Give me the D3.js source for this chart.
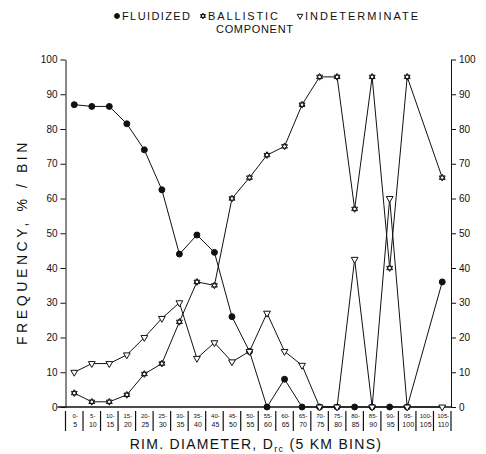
<!DOCTYPE html>
<html>
<head>
<meta charset="utf-8">
<script src="https://cdn.jsdelivr.net/npm/d3@7"></script>
<style>
  body { margin: 0; background: #fff; }
  text { font-family: "Liberation Sans", Arial, sans-serif; fill: #111; }
</style>
</head>
<body>
<div id="chart"></div>
<script>
var svgWidth = 486;
var svgHeight = 454;

// bins of rim diameter, 5 km each
var binLow = ["0-", "5-", "10-", "15-", "20-", "25-", "30-", "35-", "40-", "45-", "50-",
  "55-", "60-", "65-", "70-", "75-", "80-", "85-", "90-", "95-", "100-", "105-"];
var binHigh = ["5", "10", "15", "20", "25", "30", "35", "40", "45", "50", "55",
  "60", "65", "70", "75", "80", "85", "90", "95", "100", "105", "110"];
var bins = binLow.map((d, i) => d + binHigh[i]);

// frequency, % per bin (null = not plotted)
var fluidized = [87, 86.5, 86.5, 81.5, 74, 62.5, 44, 49.5, 44.5, 26, 16,
  0, 8, 0, 0, 0, 0, 0, 0, 0, null, 36];
var ballistic = [4, 1.5, 1.5, 3.5, 9.5, 12.5, 24.5, 36, 35, 60, 66,
  72.5, 75, 87, 95, 95, 57, 95, 40, 95, null, 66];
var indeterminate = [10, 12.5, 12.5, 15, 20, 25.5, 30, 14, 18.5, 13, 16,
  27, 16, 12, 0, 0, 42.5, 0, 60, 0, null, 0];

var yTicks = [0, 10, 20, 30, 40, 50, 60, 70, 80, 90, 100];

var margin = { top: 59.5, right: 35, bottom: 47, left: 65.5 };
var width = svgWidth - margin.left - margin.right;
var height = svgHeight - margin.top - margin.bottom;

var svg = d3.select("#chart")
  .append("svg")
  .attr("width", svgWidth)
  .attr("height", svgHeight);

var chartGroup = svg.append("g")
  .attr("transform", `translate(${margin.left}, ${margin.top})`);

var x = d3.scaleBand().domain(bins).range([0, width]);
var y = d3.scaleLinear().domain([0, 100]).range([height, 0]);

// hexagram marker for the ballistic series
var hexagram = {
  draw: function(ctx, size) {
    var r = Math.sqrt(size) * 0.62;
    for (var k = 0; k < 2; k++) {
      for (var j = 0; j < 3; j++) {
        var a = (k * 60 + j * 120 - 90) * Math.PI / 180;
        var px = r * Math.cos(a), py = r * Math.sin(a);
        if (j === 0) ctx.moveTo(px, py); else ctx.lineTo(px, py);
      }
      ctx.closePath();
    }
  }
};

// axes
var leftAxis = d3.axisLeft(y).tickValues(yTicks).tickSizeInner(5).tickSizeOuter(0);
var rightAxis = d3.axisRight(y).tickValues(yTicks).tickSizeInner(5).tickSizeOuter(0);

var gl = chartGroup.append("g").call(leftAxis);
var gr = chartGroup.append("g").attr("transform", `translate(${width}, 0)`).call(rightAxis);
[gl, gr].forEach(function(g) {
  g.selectAll("path, line").attr("stroke", "#111");
  g.selectAll("text").attr("font-size", "10px").style("font-family", "Liberation Sans, Arial, sans-serif").attr("fill", "#111");
});
gl.selectAll("text").attr("x", -8);
gr.selectAll("text").attr("x", 8);

// x axis line
chartGroup.append("line")
  .attr("x1", -8).attr("x2", width)
  .attr("y1", height).attr("y2", height)
  .attr("stroke", "#111").attr("stroke-width", 1.4);

// bin label boxes
var binG = chartGroup.append("g").attr("transform", `translate(0, ${height})`);
binG.selectAll("line.sep")
  .data(bins.concat(["end"]))
  .enter()
  .append("line")
  .attr("x1", (d, i) => i < bins.length ? x(d) : width)
  .attr("x2", (d, i) => i < bins.length ? x(d) : width)
  .attr("y1", 4).attr("y2", 24)
  .attr("stroke", "#111").attr("stroke-width", 1.2);

binG.selectAll("text.low")
  .data(bins)
  .enter()
  .append("text")
  .attr("x", d => x(d) + x.bandwidth() / 2 + 1)
  .attr("y", 11)
  .attr("text-anchor", "middle")
  .attr("font-size", "6px")
  .text((d, i) => binLow[i]);

binG.selectAll("text.high")
  .data(bins)
  .enter()
  .append("text")
  .attr("x", d => x(d) + x.bandwidth() / 2 + 1)
  .attr("y", 20)
  .attr("text-anchor", "middle")
  .attr("font-size", "7px")
  .text((d, i) => binHigh[i]);

// series
var series = [
  { name: "fluidized", values: fluidized, symbol: d3.symbolCircle, size: 28, fill: "#111" },
  { name: "ballistic", values: ballistic, symbol: hexagram, size: 30, fill: "#fff" },
  { name: "indeterminate", values: indeterminate, symbol: d3.symbolTriangle, size: 20, fill: "#fff", rotate: 180 }
];

var line = d3.line()
  .x(d => x(d.bin) + x.bandwidth() / 2)
  .y(d => y(d.v));

series.forEach(function(s) {
  var pts = s.values.map((v, i) => ({ bin: bins[i], v: v })).filter(d => d.v !== null);
  chartGroup.append("path")
    .datum(pts)
    .attr("d", line)
    .attr("fill", "none")
    .attr("stroke", "#111")
    .attr("stroke-width", 1);
  s.pts = pts;
});

series.forEach(function(s) {
  chartGroup.selectAll("path." + s.name)
    .data(s.pts)
    .enter()
    .append("path")
    .attr("class", s.name)
    .attr("d", d3.symbol().type(s.symbol).size(s.size))
    .attr("transform", d => `translate(${x(d.bin) + x.bandwidth() / 2}, ${y(d.v)}) rotate(${s.rotate || 0})`)
    .attr("fill", s.fill)
    .attr("stroke", "#111")
    .attr("stroke-width", 1);
});

// legend
var legend = svg.append("g");
var legendItems = [
  { label: "FLUIDIZED", x: 122, len: 68, s: series[0] },
  { label: "BALLISTIC", x: 208, len: 70, s: series[1] },
  { label: "INDETERMINATE", x: 305, len: 113, s: series[2] }
];
legendItems.forEach(function(it) {
  legend.append("path")
    .attr("d", d3.symbol().type(it.s.symbol).size(it.s.size * 0.7))
    .attr("transform", `translate(${it.x - 5}, 16) rotate(${it.s.rotate || 0})`)
    .attr("fill", it.s.fill)
    .attr("stroke", "#111");
  legend.append("text")
    .attr("x", it.x)
    .attr("y", 20)
    .attr("font-size", "11px")
    .attr("textLength", it.len)
    .attr("lengthAdjust", "spacing")
    .text(it.label);
});
legend.append("text")
  .attr("x", 216)
  .attr("y", 33)
  .attr("font-size", "11px")
  .attr("textLength", 77)
  .attr("lengthAdjust", "spacing")
  .text("COMPONENT");

// axis titles
var xt = svg.append("text")
  .attr("x", 256)
  .attr("y", 449)
  .attr("text-anchor", "middle")
  .attr("font-size", "14px")
  .attr("letter-spacing", "1.3px");
xt.append("tspan").text("RIM. DIAMETER, D");
xt.append("tspan").attr("font-size", "9px").attr("dy", 3).text("rc");
xt.append("tspan").attr("dy", -3).text("  (5 KM BINS)");

svg.append("text")
  .attr("transform", "translate(27, 242) rotate(-90)")
  .attr("text-anchor", "middle")
  .attr("font-size", "14px")
  .attr("letter-spacing", "3.6px")
  .text("FREQUENCY, % / BIN");
</script>
</body>
</html>
